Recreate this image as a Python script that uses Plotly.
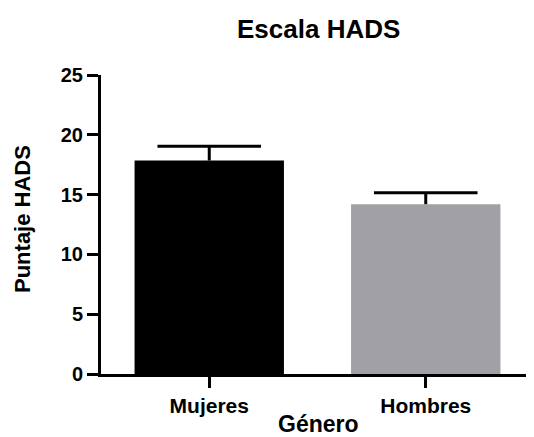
import plotly.graph_objects as go

categories = ["Mujeres", "Hombres"]
means = [17.85, 14.2]
errors = [1.2, 0.95]
colors = ["#000000", "#a1a0a5"]
y_ticks = [0, 5, 10, 15, 20, 25]

# page body has an 8px margin: build the figure 8px smaller and shift coordinates
OFF = 8
W, H = 534 - OFF, 437 - OFF
L, R, T, B = 101 - OFF, 0, 75 - OFF, 71 - OFF
pw, ph = W - L - R, H - T - B

def px(x):
    return (x - OFF - L) / pw

def py(y):
    return (H - B - (y - OFF)) / ph

FONT = "Liberation Sans, Arial, sans-serif"

tops = [m + e for m, e in zip(means, errors)]
err_x, err_y = [], []
for c, m, t in zip(categories, means, tops):
    err_x += [c, c, None]
    err_y += [m, t, None]

fig = go.Figure()
fig.add_trace(go.Bar(
    x=categories, y=means,
    marker=dict(color=colors, line=dict(width=0)),
    width=0.69,
))
fig.add_trace(go.Scatter(
    x=err_x, y=err_y, mode="lines",
    line=dict(color="black", width=3), hoverinfo="skip",
))
fig.add_trace(go.Scatter(
    x=categories, y=tops, mode="markers",
    marker=dict(symbol="line-ew", size=74, line=dict(color="black", width=3)),
    hoverinfo="skip",
))

fig.update_layout(
    width=W, height=H,
    margin=dict(l=L, r=R, t=T, b=B, pad=0, autoexpand=False),
    paper_bgcolor="white", plot_bgcolor="white",
    showlegend=False,
    xaxis=dict(
        range=[-0.5, 1.5], showline=True, linewidth=3, linecolor="black",
        ticks="outside", ticklen=11, tickwidth=3, tickcolor="black",
        tickfont=dict(family=FONT, size=21, color="black", weight="bold"),
        showgrid=False, zeroline=False, automargin=False,
    ),
    yaxis=dict(
        range=[0, 25], tickvals=y_ticks, showline=True, linewidth=3, linecolor="black",
        ticks="outside", ticklen=11, tickwidth=3, tickcolor="black",
        tickfont=dict(family=FONT, size=20, color="black", weight="bold"),
        showgrid=False, zeroline=False, automargin=False,
    ),
    annotations=[
        dict(text="<b>Escala HADS</b>", xref="paper", yref="paper",
             x=px(318.5), y=py(28.5), xanchor="center", yanchor="middle",
             showarrow=False, font=dict(family=FONT, size=26, color="black")),
        dict(text="<b>Género</b>", xref="paper", yref="paper",
             x=px(318.5), y=py(424), xanchor="center", yanchor="middle",
             showarrow=False, font=dict(family=FONT, size=23, color="black")),
        dict(text="<b>Puntaje HADS</b>", xref="paper", yref="paper",
             x=px(22), y=py(219), xanchor="center", yanchor="middle", textangle=-90,
             showarrow=False, font=dict(family=FONT, size=22, color="black")),
    ],
)

fig.write_html("out.html")
